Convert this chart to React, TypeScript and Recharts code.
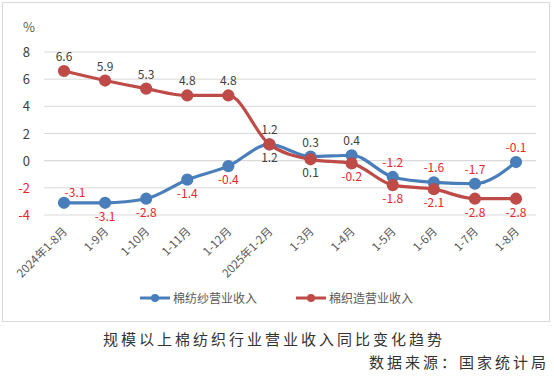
import { LineChart, Line, XAxis, YAxis, CartesianGrid, LabelList, ReferenceLine } from "recharts";

const categories = [
  "2024年1-8月", "1-9月", "1-10月", "1-11月", "1-12月", "2025年1-2月",
  "1-3月", "1-4月", "1-5月", "1-6月", "1-7月", "1-8月",
];
const yarnRevenue = [-3.1, -3.1, -2.8, -1.4, -0.4, 1.2, 0.3, 0.4, -1.2, -1.6, -1.7, -0.1];
const weavingRevenue = [6.6, 5.9, 5.3, 4.8, 4.8, 1.2, 0.1, -0.2, -1.8, -2.1, -2.8, -2.8];
const yTicks = [-4, -2, 0, 2, 4, 6, 8];

// where each data label sits relative to its point
const yarnLabelSide = ["topright", "bottom", "bottom", "bottom", "bottom", "top", "top", "top", "top", "top", "top", "top"];
const weavingLabelSide = ["top", "top", "top", "top", "top", "bottom", "bottom", "bottom", "bottom", "bottom", "bottom", "bottom"];

const data = categories.map((c, i) => ({ name: c, yarn: yarnRevenue[i], weaving: weavingRevenue[i] }));

const BLUE = "#4a7ebb";
const RED = "#be4b48";
const FONT = "'Noto Sans CJK SC', 'Noto Sans', sans-serif";

const numColor = (v: number) => (v < 0 ? "#e8262b" : "#404040");

function makeLabel(sides: string[]) {
  return (props: any) => {
    const { x, y, value, index } = props;
    const side = sides[index];
    let ty = side === "bottom" ? y + 18 : y - 10;
    if (side === "topright") ty = y - 6;
    let tx = side === "topright" ? x + 11 : x;
    return (
      <text x={tx} y={ty} textAnchor="middle" fontSize={12} fill={numColor(value)} fontFamily={FONT}>
        {value.toFixed(1)}
      </text>
    );
  };
}

function XTick({ x, y, payload }: any) {
  return (
    <text
      x={x + 4}
      y={y + 9}
      transform={`rotate(-45 ${x + 4} ${y + 9})`}
      textAnchor="end"
      fontSize={11.5}
      fill="#595959"
      fontFamily={FONT}
    >
      {payload.value}
    </text>
  );
}

function YTick({ x, y, payload }: any) {
  return (
    <text x={x} y={y + 5} textAnchor="end" fontSize={13} fill={numColor(payload.value)} fontFamily={FONT}>
      {payload.value}
    </text>
  );
}

function LegendItem({ color, label }: { color: string; label: string }) {
  return (
    <div style={{ display: "flex", alignItems: "center", marginRight: 38 }}>
      <svg width={32} height={10}>
        <line x1={1} y1={5} x2={31} y2={5} stroke={color} strokeWidth={3} />
        <circle cx={16} cy={5} r={4} fill={color} />
      </svg>
      <span style={{ fontSize: 12, color: "#595959", marginLeft: 2 }}>{label}</span>
    </div>
  );
}

export default function App() {
  return (
    <div style={{ position: "absolute", left: 0, top: 0, width: 554, height: 378, background: "#fff", fontFamily: FONT }}>
      <div
        style={{
          position: "absolute",
          left: 2,
          top: 2,
          width: 548,
          height: 320,
          border: "1px solid #d9d9d9",
          boxSizing: "border-box",
        }}
      >
        <div style={{ position: "absolute", left: 20, top: 14, fontSize: 13, color: "#595959" }}>%</div>
        <LineChart width={546} height={318} data={data} margin={{ top: 49, right: 13, bottom: 36, left: 10 }}>
          <CartesianGrid vertical={false} stroke="#d9d9d9" />
          <ReferenceLine y={0} stroke="#d9d9d9" />
          <XAxis
            dataKey="name"
            axisLine={false}
            tickLine={false}
            interval={0}
            height={70}
            padding={{ left: 20, right: 20 }}
            tick={<XTick />}
          />
          <YAxis
            domain={[-4, 8]}
            ticks={yTicks}
            axisLine={false}
            tickLine={false}
            width={31}
            tickMargin={8}
            tick={<YTick />}
          />
          <Line
            type="monotone"
            dataKey="yarn"
            stroke={BLUE}
            strokeWidth={3.2}
            dot={{ r: 4.5, fill: BLUE, stroke: BLUE }}
            isAnimationActive={false}
          >
            <LabelList dataKey="yarn" content={makeLabel(yarnLabelSide)} />
          </Line>
          <Line
            type="monotone"
            dataKey="weaving"
            stroke={RED}
            strokeWidth={3.2}
            dot={{ r: 4.5, fill: RED, stroke: RED }}
            isAnimationActive={false}
          >
            <LabelList dataKey="weaving" content={makeLabel(weavingLabelSide)} />
          </Line>
        </LineChart>
        <div style={{ position: "absolute", left: 136, top: 286, display: "flex" }}>
          <LegendItem color={BLUE} label="棉纺纱营业收入" />
          <LegendItem color={RED} label="棉织造营业收入" />
        </div>
      </div>
      <div style={{ position: "absolute", left: 103, top: 328, fontSize: 15, letterSpacing: 3, color: "#333" }}>
        规模以上棉纺织行业营业收入同比变化趋势
      </div>
      <div style={{ position: "absolute", right: 5, top: 351, fontSize: 15, letterSpacing: 3, color: "#333" }}>
        数据来源：国家统计局
      </div>
    </div>
  );
}
